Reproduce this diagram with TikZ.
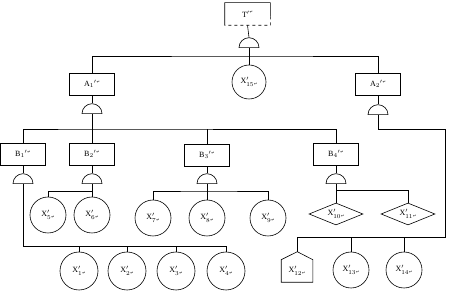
\documentclass[tikz,border=0pt]{standalone}
\usepackage{fontspec}
\setmainfont{Liberation Serif}
\newfontfamily\markfont{DejaVu Sans}
\usepackage{tikz}
\usetikzlibrary{positioning,shapes.geometric,calc}
\newcommand{\upmark}{\raisebox{0.9ex}{\markfont\fontsize{4}{4}\selectfont ↵}}
\newcommand{\dnmark}{\raisebox{-0.4ex}{\markfont\fontsize{4}{4}\selectfont ↵}}
\newcommand{\evlabel}[2]{$\mathrm{#1}_{#2}{}^{\prime}$\upmark}
\newcommand{\bslabel}[1]{$\mathrm{X}'_{#1}$\dnmark}

\begin{document}
\begin{tikzpicture}[x=1pt,y=1pt,line width=0.6pt,
  event/.style={draw,rectangle,minimum width=45pt,minimum height=22pt,inner sep=1pt,font=\footnotesize},
  basic/.style={draw,circle,minimum size=36pt,inner sep=0pt,font=\footnotesize},
  undev/.style={draw,diamond,aspect=2.4,minimum width=54pt,minimum height=22pt,inner sep=0pt,font=\footnotesize},
  andgate/.style={draw,semicircle,minimum width=20pt,inner sep=0pt,anchor=chord center}]
\useasboundingbox (0,0) rectangle (450,-296);
% top event
\node[rectangle,minimum width=45pt,minimum height=22pt,inner sep=1pt,font=\footnotesize] (T) at (247.5,-14) {T$^{\prime}$\upmark};
\draw (T.south west) |- (T.north east) -- ($(T.north east)!0.6!(T.south east)$) coordinate (Tcut);
\draw[dashed] (Tcut) -- (T.south east) -- (T.south west);
\node[andgate] (gT) at (249,-48) {};
\coordinate (bT) at (249,-56);
% second level
\node[event] (A1) at (92,-84) {\evlabel{A}{1}};
\node[basic,minimum size=34pt] (X15) at (249,-82) {\bslabel{15}};
\node[event] (A2) at (378,-84) {\evlabel{A}{2}};
\node[andgate] (gA1) at (92,-114) {};
\node[andgate] (gA2) at (378,-115) {};
\coordinate (bA1) at (92,-129);
\coordinate (cA2) at (445,-129);
\coordinate (bA2) at (445,-237);
% third level
\node[event] (B1) at (23,-154) {\evlabel{B}{1}};
\node[event] (B2) at (92,-154) {\evlabel{B}{2}};
\node[event] (B3) at (207,-155) {\evlabel{B}{3}};
\node[event] (B4) at (336,-154) {\evlabel{B}{4}};
\node[andgate] (gB1) at (23,-184) {};
\node[andgate] (gB2) at (92,-184) {};
\node[andgate] (gB3) at (207,-184) {};
\node[andgate] (gB4) at (336,-184) {};
\coordinate (bB1) at (226,-246);
\coordinate (bB2) at (92,-191);
\coordinate (bB3) at (207,-191);
\coordinate (bB4) at (336,-190);
% basic events
\node[basic] (X5) at (48,-215) {\bslabel{5}};
\node[basic] (X6) at (92,-215) {\bslabel{6}};
\node[basic] (X7) at (153,-218) {\bslabel{7}};
\node[basic] (X8) at (207,-218) {\bslabel{8}};
\node[basic] (X9) at (268,-218) {\bslabel{9}};
\node[undev] (X10) at (336,-214) {\bslabel{10}};
\node[undev] (X11) at (408,-214) {\bslabel{11}};
\node[basic,minimum size=38pt] (X1) at (79,-271) {\bslabel{1}};
\node[basic,minimum size=38pt] (X2) at (127,-271) {\bslabel{2}};
\node[basic,minimum size=38pt] (X3) at (176,-271) {\bslabel{3}};
\node[basic,minimum size=38pt] (X4) at (226,-271) {\bslabel{4}};
\node[rectangle,minimum width=31pt,minimum height=22pt,inner sep=0pt,font=\footnotesize] (X12) at (297,-271) {\bslabel{12}};
\draw (X12.north west) -- (X12.south west) -- (X12.south east) -- (X12.north east) -- ++(-15.5,8) coordinate (X12top) -- cycle;
\node[basic] (X13) at (351,-270) {\bslabel{13}};
\node[basic] (X14) at (404,-270) {\bslabel{14}};
% connectors
\draw (T.south) -- (gT.apex);
\draw (gT.chord center) -- (X15.north);
\draw (A1.north) |- (bT) -| (A2.north);
\draw (A1.south) -- (gA1.apex);
\draw (A2.south) -- (gA2.apex);
\draw (gA1.chord center) -- (B2.north);
\draw (B1.north) |- (bA1) -| (B4.north);
\draw (B3.north) -- (B3.north |- bA1);
\draw (gA2.chord center) |- (cA2) -- (bA2) -| (X12top);
\draw (X13.north) -- (X13.north |- bA2);
\draw (X14.north) -- (X14.north |- bA2);
\foreach \b in {B1,B2,B3,B4} \draw (\b.south) -- (g\b.apex);
\draw (gB1.chord center) |- (bB1) -- (X4.north);
\foreach \x in {X1,X2,X3} \draw (\x.north) -- (\x.north |- bB1);
\draw (gB2.chord center) -- (X6.north);
\draw (X5.north) |- (bB2);
\draw (gB3.chord center) -- (X8.north);
\draw (X7.north) |- (bB3) -| (X9.north);
\draw (gB4.chord center) -- (X10.north);
\draw (bB4) -| (X11.north);
\end{tikzpicture}
\end{document}
